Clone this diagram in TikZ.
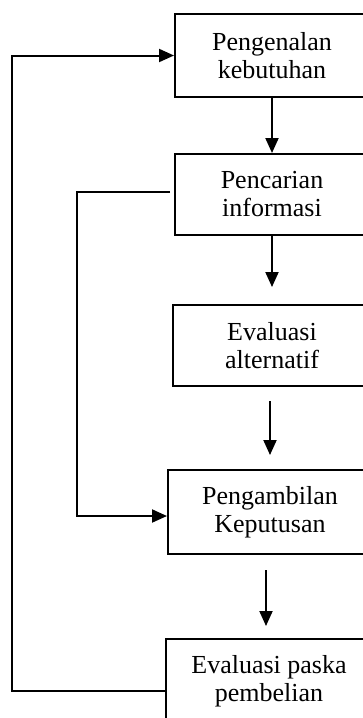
\documentclass[tikz,border=0pt]{standalone}
\usepackage{fontspec}
\setmainfont{Liberation Serif}
\usetikzlibrary{arrows.meta}
\begin{document}
\begin{tikzpicture}[
    x=0.5pt, y=-0.5pt,
    stage/.style={rectangle, draw, line width=1pt, align=center,
        font=\fontsize{13}{14}\selectfont, inner sep=0pt},
    arrow/.style={-{Triangle[width=6.5pt,length=7.5pt]}, line width=1pt}
]
    \useasboundingbox (0,0) rectangle (363,718);
    \clip (0,0) rectangle (363,718);

    \node[stage, minimum width=97pt, minimum height=41.5pt] (need) at (272,55.5) {Pengenalan\\kebutuhan};
    \node[stage, minimum width=97pt, minimum height=40.5pt] (search) at (272,194.5) {Pencarian\\informasi};
    \node[stage, minimum width=99pt, minimum height=40.5pt] (alt) at (272,345.5) {Evaluasi\\alternatif};
    \node[stage, minimum width=102pt, minimum height=42pt] (decide) at (270,512) {Pengambilan\\Keputusan};
    \node[stage, minimum width=103pt, minimum height=42pt] (post) at (269,681) {Evaluasi paska\\pembelian};

    \draw[arrow] (need) -- (search);
    \draw[arrow, shorten >=8.5pt] (search) -- (alt);
    \draw[arrow, shorten <=7pt, shorten >=7pt] ([xshift=-1pt]alt.south) -- ([xshift=-1pt]alt.south |- decide.north);
    \draw[arrow, shorten <=7.5pt, shorten >=6pt] ([xshift=-2pt]decide.south) -- ([xshift=-2pt]decide.south |- post.north);

    % feedback loops
    \draw[arrow] ([xshift=-2pt,yshift=1.25pt]search.west) -- ++(-93,0) |- ([yshift=-2pt]decide.west);
    \draw[arrow] ([yshift=-5pt]post.west) -- ++(-153,0) |- (need.west);
\end{tikzpicture}
\end{document}
